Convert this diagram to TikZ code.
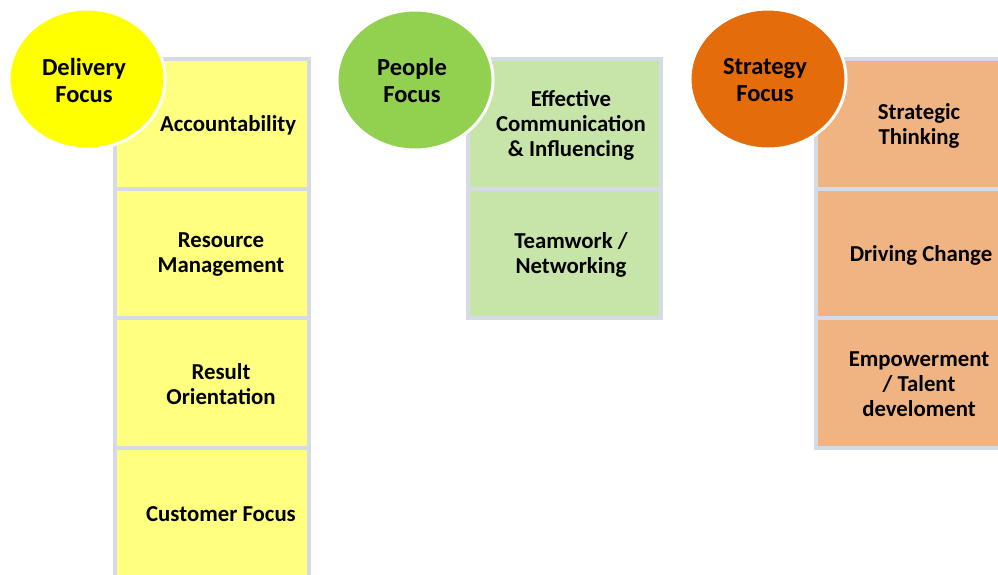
\documentclass[tikz,border=0pt]{standalone}
\usepackage{fontspec}
\setmainfont{Carlito}
\definecolor{cellgray}{HTML}{D5DBE5}
\definecolor{dyel}{HTML}{FFFF00}
\definecolor{dyelc}{HTML}{FFFF80}
\definecolor{pgrn}{HTML}{92D050}
\definecolor{pgrnc}{HTML}{C7E5A8}
\definecolor{sorg}{HTML}{E46C0A}
\definecolor{sorgc}{HTML}{F0B483}
\tikzset{
  cellbox/.style={draw=cellgray, line width=4pt, rectangle, inner sep=0pt,
    minimum width=194pt, minimum height=129.5pt, anchor=north west},
  focus/.style={draw=white, line width=3pt, ellipse, inner sep=0pt,
    minimum width=156pt, minimum height=140pt},
  focustext/.style={font=\bfseries\fontsize{24.5}{27}\selectfont, align=center, text=black, inner sep=0pt},
  celltext/.style={font=\bfseries\fontsize{22.8}{25}\selectfont, align=center, text=black, inner sep=0pt},
}
\usetikzlibrary{shapes.geometric}
\begin{document}
\begin{tikzpicture}[x=1pt,y=-1pt]
\useasboundingbox (0,0) rectangle (998,574);
\clip (0,0) rectangle (998,574);
% Delivery column
\node[cellbox, fill=dyelc] (d1) at (113,57) {};
\node[cellbox, fill=dyelc] (d2) at (113,186.5) {};
\node[cellbox, fill=dyelc] (d3) at (113,316) {};
\node[cellbox, fill=dyelc] (d4) at (113,445.5) {};
% People column
\node[cellbox, fill=pgrnc, minimum width=193pt] (p1) at (466,57) {};
\node[cellbox, fill=pgrnc, minimum width=193pt] (p2) at (466,186.5) {};
% Strategy column
\node[cellbox, fill=sorgc] (s1) at (814,57) {};
\node[cellbox, fill=sorgc] (s2) at (814,186.5) {};
\node[cellbox, fill=sorgc] (s3) at (814,316) {};
% circles
\node[focus, fill=dyel] (dc) at (87,79) {};
\node[focus, fill=pgrn] (pc) at (415,80) {};
\node[focus, fill=sorg] (sc) at (768,79) {};
% circle texts
\node[focustext] (dct) at (84,80) {Delivery\\Focus};
\node[focustext] (pct) at (412,80) {People\\Focus};
\node[focustext] (sct) at (765,80) {Strategy\\Focus};
% cell texts
\node[celltext] (d1t) at (228,125) {Accountability};
\node[celltext] (d2t) at (221,254.5) {Resource\\Management};
\node[celltext] (d3t) at (221,384) {Result\\Orientation};
\node[celltext] (d4t) at (221,514) {Customer Focus};
\node[celltext] (p1t) at (571,125) {Effective\\Communication\\\& Influencing};
\node[celltext] (p2t) at (571,254.5) {Teamwork /\\Networking};
\node[celltext] (s1t) at (919,125.5) {Strategic\\Thinking};
\node[celltext] (s2t) at (921,255) {Driving Change};
\node[celltext] (s3t) at (919,384) {Empowerment\\/ Talent\\develoment};
\end{tikzpicture}
\end{document}
